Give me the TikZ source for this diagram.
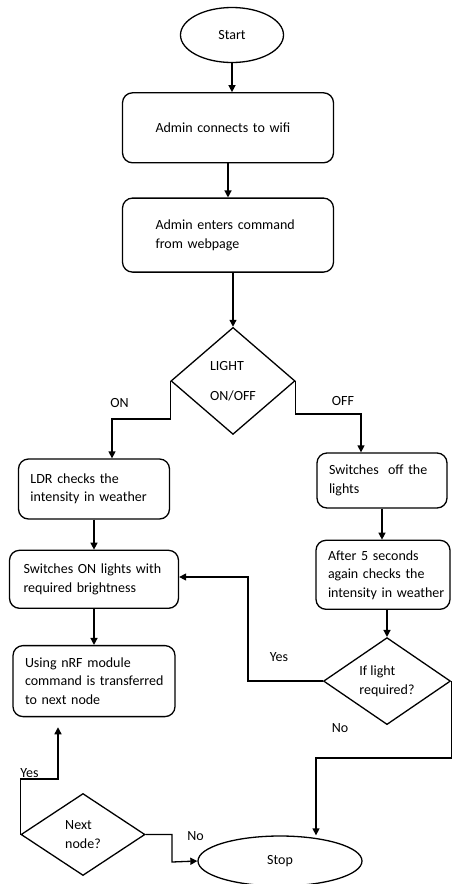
\documentclass[tikz,border=0pt]{standalone}
\usepackage{fontspec}
\setmainfont{Carlito}
\usepackage{tikz}
\usetikzlibrary{shapes.geometric, arrows.meta, positioning}

\begin{document}
\begin{tikzpicture}[
  x=1pt, y=1pt,
  line width=1.3pt,
  termnode/.style = {ellipse, draw, line width=1.3pt, font=\fontsize{14}{18.5}\selectfont},
  procnode/.style = {rectangle, rounded corners=10pt, draw, line width=1.3pt, align=left,
                 inner xsep=12pt, inner ysep=0pt, font=\fontsize{14}{18.5}\selectfont},
  decnode/.style  = {diamond, draw, line width=1.3pt, align=left, inner sep=0pt,
                 font=\fontsize{14}{18.5}\selectfont},
  lbl/.style  = {inner sep=0pt, font=\fontsize{14}{18.5}\selectfont},
  arr/.style  = {-{Triangle[length=7pt,width=7pt]}, line width=1.3pt},
]
\useasboundingbox (0,0) rectangle (451,-884);

%% --- Main column ---
\node[termnode, minimum width=103pt, minimum height=55pt] (start) at (232,-35) {Start};
\node[procnode, below=29pt of start, xshift=-4pt, text width=145pt, inner xsep=33pt,
      minimum height=70pt] (wifi) {Admin connects to wifi};
\node[procnode, below=34pt of wifi, text width=145pt, inner xsep=33pt,
      minimum height=74pt] (cmd) {Admin enters command\\from webpage};
\node[decnode, below=54pt of cmd, xshift=5pt, minimum width=124pt,
      minimum height=107pt] (light) {LIGHT\\[11.5pt]ON/OFF};

%% --- ON branch ---
\node[procnode, text width=127pt, minimum height=60pt] (ldr) at (94,-489)
      {LDR checks the\\intensity in weather};
\node[procnode, below=30pt of ldr, text width=141pt, inner xsep=14pt,
      minimum height=58pt] (swon) {Switches ON lights with\\required brightness};
\node[procnode, below=36pt of swon, text width=138pt, minimum height=71pt] (nrf)
      {Using nRF module\\\mbox{command is transferred}\\to next node};
\node[decnode, minimum width=124pt, minimum height=82pt] (next) at (83,-834.5) {Next\\node?};

%% --- OFF branch ---
\node[procnode, text width=106pt, minimum height=55pt] (off) at (382,-480.5)
      {Switches\ \ off the\\lights};
\node[procnode, below=31pt of off, xshift=1pt, text width=110pt, minimum height=69pt] (after)
      {After 5 seconds\\again checks the\\\mbox{intensity in weather}};
\node[decnode, below=27pt of after, xshift=4pt, minimum width=127pt,
      minimum height=87pt] (ifl) {If light\\required?};

%% --- End ---
\node[termnode, minimum width=164pt, minimum height=50pt] (stop) at (280,-861) {Stop};

%% --- Labels ---
\node[lbl] (onlbl)   at (119.5,-403) {ON};
\node[lbl] (offlbl)  at (343,-401)   {OFF};
\node[lbl] (yeslbl)  at (279,-657)   {Yes};
\node[lbl] (nolbl)   at (340,-728)   {No};
\node[lbl] (nyeslbl) at (29.5,-773)  {Yes};
\node[lbl] (nnolbl)  at (195.5,-836) {No};

%% --- Bends ---
\coordinate (onbend)   at (112,-419);
\coordinate (offbend)  at (361,-414);
\coordinate (yesbend)  at (248,-577);
\coordinate (nobend)   at (316,-758);
\coordinate (nyesbend) at (58,-779);
\coordinate (nnobend)  at (172,-862);

%% --- Arrows ---
\draw[arr] (start) -- (start |- wifi.north);
\draw[arr] (wifi) -- (cmd);
\draw[arr] (cmd.south -| light) -- (light);
\draw[arr] (light.west) |- (onbend) -- (onbend |- ldr.north);
\draw[arr] (light.east) |- (offbend) -- (offbend |- off.north);
\draw[arr] (ldr) -- (swon);
\draw[arr] (swon) -- (nrf);
\draw[arr] (off) -- (off |- after.north);
\draw[arr] (ifl |- after.south) -- (ifl);
\draw[arr] (ifl.west) -| (yesbend) -- (yesbend -| swon.east);
\draw[arr] (ifl.east) |- (nobend) -- (nobend |- stop.north);
\draw[arr, shorten >=10pt] (next.west) |- (nyesbend) -- (nyesbend |- nrf.south);
\draw[arr] (next.east) -| (nnobend) -- (stop.west);

\end{tikzpicture}
\end{document}
